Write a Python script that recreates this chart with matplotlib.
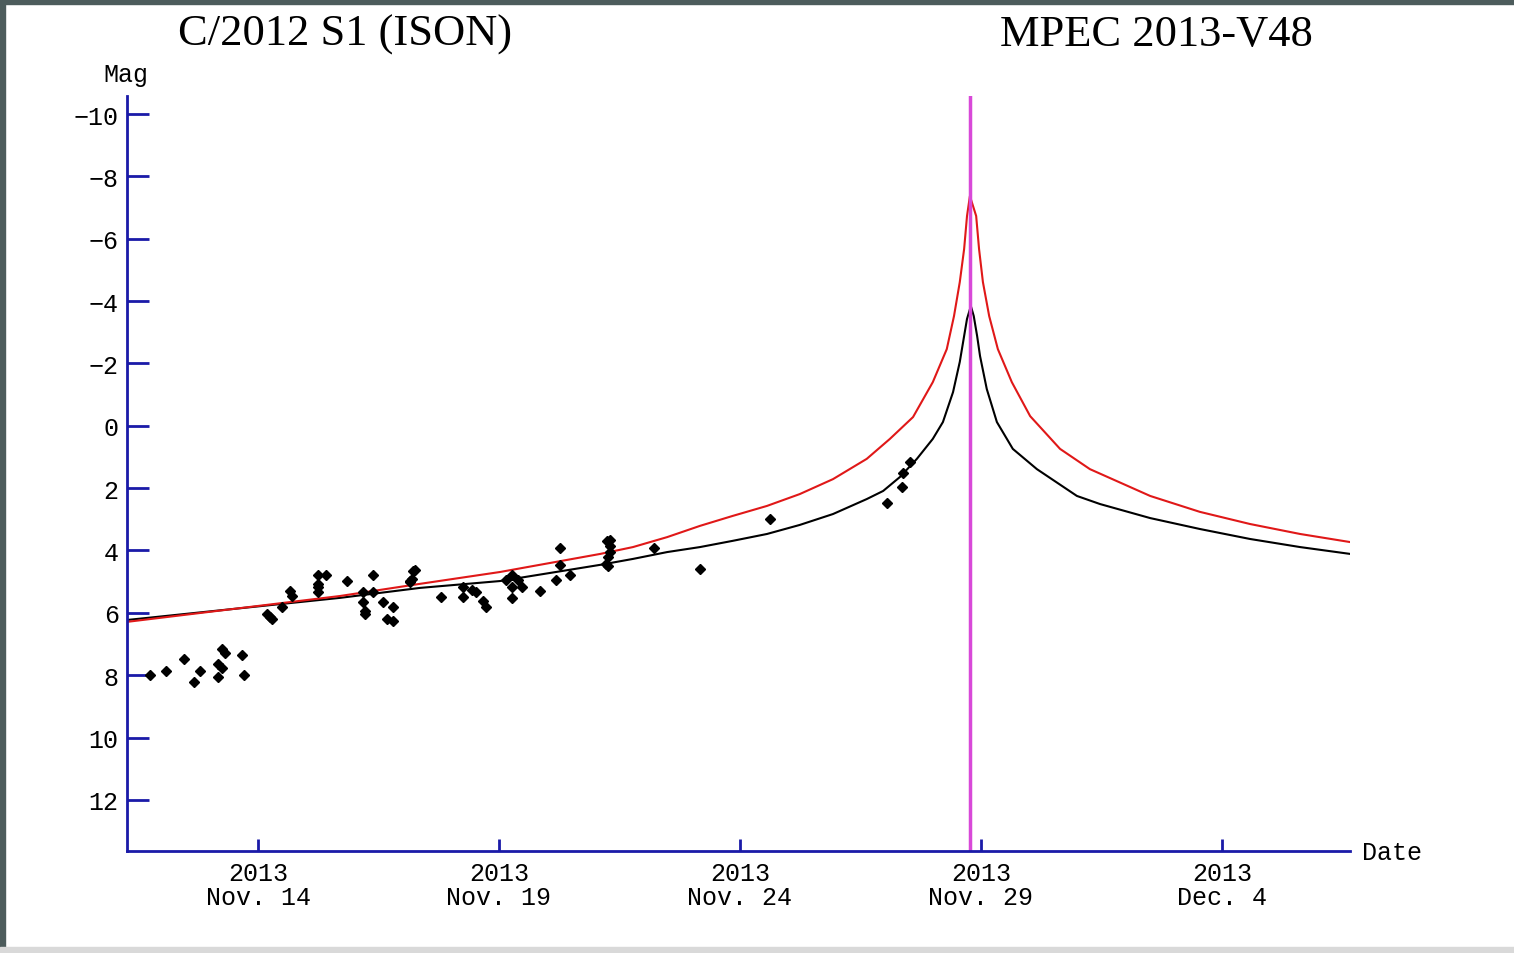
import matplotlib.pyplot as plt
from matplotlib.patches import Rectangle

# dates are day-of-November 2013 (Dec 4 = 34)
obs_day = [11.76, 12.09, 12.46, 12.67, 12.80, 13.25, 13.32, 13.17, 13.25, 13.17,
           13.67, 13.71, 14.19, 14.25, 14.28, 14.49, 14.66, 14.70, 15.25, 15.41,
           15.25, 15.25, 15.25, 15.85, 16.39, 16.18, 16.22, 16.22, 16.60, 16.80,
           16.67, 16.80, 16.18, 16.39, 17.22, 17.15, 17.26, 17.20, 17.15, 17.80,
           18.25, 18.25, 18.44, 18.52, 18.67, 18.73, 19.15, 19.27, 19.27, 19.27,
           19.40, 19.48, 19.85, 20.18, 20.27, 20.47, 20.27, 21.26, 21.26, 21.24,
           21.30, 21.30, 21.30, 21.22, 22.22, 23.17, 24.62, 27.05, 27.36, 27.38,
           27.53]
obs_mag = [8.00, 7.86, 7.48, 8.22, 7.86, 7.16, 7.29, 7.64, 7.77, 8.06,
           7.35, 8.00, 6.04, 6.13, 6.20, 5.81, 5.30, 5.46, 4.79, 4.79,
           5.07, 5.17, 5.33, 4.98, 4.79, 5.65, 5.94, 6.04, 5.65, 5.81,
           6.20, 6.26, 5.33, 5.33, 4.66, 4.98, 4.62, 4.91, 5.01, 5.49,
           5.17, 5.49, 5.27, 5.33, 5.62, 5.81, 4.95, 4.79, 5.17, 5.52,
           4.95, 5.17, 5.30, 4.95, 4.46, 4.79, 3.92, 4.21, 4.50, 3.69,
           3.66, 3.85, 4.05, 4.43, 3.92, 4.59, 2.99, 2.48, 1.96, 1.51,
           1.16]

red_day = [11.28, 15.70, 17.36, 19.02, 21.10, 21.78, 22.49, 23.17, 23.85, 24.56,
           25.24, 25.93, 26.63, 27.11, 27.59, 28.00, 28.29, 28.44, 28.56, 28.65,
           28.71, 28.77, 28.90, 28.96, 29.04, 29.17, 29.35, 29.64, 30.02, 30.64,
           31.26, 32.51, 33.54, 34.58, 35.62, 36.66]
red_mag = [6.29, 5.46, 5.07, 4.69, 4.11, 3.89, 3.57, 3.21, 2.89, 2.57,
           2.19, 1.71, 1.06, 0.42, -0.28, -1.40, -2.46, -3.52, -4.61, -5.67,
           -6.73, -7.37, -6.73, -5.67, -4.61, -3.52, -2.46, -1.40, -0.31, 0.74,
           1.39, 2.25, 2.76, 3.15, 3.47, 3.73]

blk_day = [11.28, 15.70, 17.36, 19.02, 21.10, 21.78, 22.49, 23.17, 23.85, 24.56,
           25.24, 25.93, 26.63, 26.97, 27.32, 27.67, 28.00, 28.21, 28.42, 28.56,
           28.65, 28.71, 28.79, 28.85, 28.92, 28.98, 29.12, 29.33, 29.66, 30.16,
           30.99, 31.47, 32.51, 33.54, 34.58, 35.62, 36.66]
blk_mag = [6.23, 5.52, 5.20, 4.98, 4.46, 4.27, 4.05, 3.89, 3.69, 3.47,
           3.18, 2.83, 2.35, 2.09, 1.64, 1.06, 0.42, -0.12, -1.08, -2.05,
           -2.88, -3.43, -3.84, -3.52, -2.88, -2.24, -1.18, -0.12, 0.74, 1.39,
           2.25, 2.51, 2.96, 3.31, 3.63, 3.89, 4.11]

perihelion = 28.77
x_ticks = [14, 19, 24, 29, 34]
x_labels = ["2013\nNov. 14", "2013\nNov. 19", "2013\nNov. 24", "2013\nNov. 29", "2013\nDec. 4"]
y_ticks = [-10, -8, -6, -4, -2, 0, 2, 4, 6, 8, 10, 12]
y_labels = ["\u221210", "\u22128", "\u22126", "\u22124", "\u22122", "0", "2", "4", "6", "8", "10", "12"]

W, H = 1514, 954
BLUE = "#1a1aa8"
MONO = "Liberation Mono"

fig = plt.figure(figsize=(W / 100, H / 100), dpi=100)
ax = fig.add_axes([127 / W, 1 - 852 / H, (1350 - 127) / W, (852 - 97) / H])

ax.plot(blk_day, blk_mag, color="black", lw=1.5)
ax.plot(red_day, red_mag, color="#e01818", lw=1.5)
ax.axvline(perihelion, color="#d848d8", lw=2.5)
ax.plot(obs_day, obs_mag, "D", color="black", ms=5.5, ls="none")

ax.set_xlim(11.282, 36.656)
ax.set_ylim(13.64, -10.58)

for s in ("top", "right"):
    ax.spines[s].set_visible(False)
for s in ("left", "bottom"):
    ax.spines[s].set_color(BLUE)
    ax.spines[s].set_linewidth(2)

ax.set_xticks(x_ticks)
ax.set_xticklabels(x_labels, fontfamily=MONO, fontsize=18)
ax.set_yticks(y_ticks)
ax.set_yticklabels(y_labels, fontfamily=MONO, fontsize=18)
for lab in ax.get_xticklabels():
    lab.set_linespacing(1.0)
ax.tick_params(axis="x", direction="in", length=9, width=2, color=BLUE, pad=7)
ax.tick_params(axis="y", direction="in", length=16, width=2, color=BLUE, pad=6)

fig.text(126 / W, 1 - 75 / H, "Mag", fontfamily=MONO, fontsize=18, ha="center", va="center")
fig.text(1362 / W, 1 - 853 / H, "Date", fontfamily=MONO, fontsize=18, ha="left", va="center")
fig.text(345 / W, 1 - 35 / H, "C/2012 S1 (ISON)", fontfamily="Liberation Serif",
         fontsize=32, ha="center", va="center")
fig.text(1156 / W, 1 - 35 / H, "MPEC 2013-V48", fontfamily="Liberation Serif",
         fontsize=32, ha="center", va="center")

# window frame
fig.patches.append(Rectangle((0, 1 - 5 / H), 1, 5 / H, transform=fig.transFigure,
                             color="#4d5c5c", zorder=0))
fig.patches.append(Rectangle((0, 0), 5 / W, 1, transform=fig.transFigure,
                             color="#4d5c5c", zorder=0))
fig.patches.append(Rectangle((0, 0), 1, 6 / H, transform=fig.transFigure,
                             color="#d9d9d9", zorder=0))

fig.savefig("out.png", dpi=100)
